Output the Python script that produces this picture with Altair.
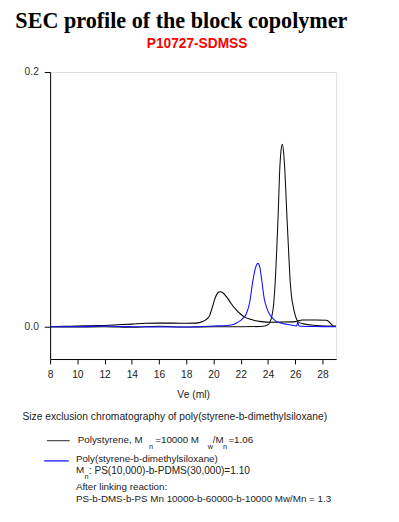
import altair as alt
import pandas as pd

# ---------------- data ----------------
ve_broad = [8.0, 9.0, 10.0, 11.0, 12.0, 13.0, 14.0, 15.0, 16.0, 17.0, 18.0, 18.7, 19.2, 19.5, 19.7,
            19.9, 20.1, 20.3, 20.45, 20.7, 21.0, 21.3, 21.7, 22.0, 22.3, 22.7, 23.0, 23.5, 24.2,
            25.0, 26.0, 26.5, 27.5, 28.3, 28.6, 28.8, 29.0]
val_broad = [0.0, 0.0003, 0.0005, 0.0008, 0.0010, 0.0015, 0.0020, 0.0027, 0.0028, 0.0028, 0.0027,
             0.0028, 0.0040, 0.0060, 0.0085, 0.0150, 0.0220, 0.0265, 0.0275, 0.0265, 0.0228, 0.0180,
             0.0128, 0.0098, 0.0075, 0.0058, 0.0049, 0.0040, 0.0035, 0.0036, 0.0040, 0.0052, 0.0053,
             0.0050, 0.0025, 0.0006, 0.0004]

ve_sharp = [8.0, 10.0, 12.0, 14.0, 16.0, 18.0, 20.0, 22.0, 23.5, 24.0, 24.15, 24.26, 24.4, 24.55,
            24.65, 24.75, 24.85, 24.95, 25.05, 25.15, 25.24, 25.35, 25.48, 25.6, 25.72, 25.84,
            26.04, 26.2, 26.6, 27.5, 28.5, 29.0]
val_sharp = [0.0, -0.0003, 0.0, -0.0005, 0.0003, -0.0003, 0.0, 0.0, 0.0002, 0.0015, 0.0040, 0.0074,
             0.0164, 0.0400, 0.0630, 0.0900, 0.1215, 0.1380, 0.1433, 0.1360, 0.1215, 0.0950, 0.0660,
             0.0400, 0.0240, 0.0164, 0.0074, 0.0040, 0.0022, 0.0010, 0.0005, 0.0003]

ve_blue = [8.0, 10.0, 12.0, 13.0, 14.0, 16.0, 18.0, 19.0, 20.0, 21.0, 21.5, 21.8, 22.1, 22.4, 22.65,
           22.9, 23.1, 23.25, 23.4, 23.5, 23.73, 23.9, 24.1, 24.4, 24.7, 25.2, 25.6, 26.1, 26.18,
           26.26, 26.5, 27.5, 29.0]
val_blue = [0.0, 0.0, 0.0005, 0.0002, 0.0, -0.0003, -0.0002, 0.0, 0.0005, 0.0010, 0.0020, 0.0036,
            0.0060, 0.0100, 0.0190, 0.0369, 0.0470, 0.0497, 0.0465, 0.0395, 0.0215, 0.0150, 0.0100,
            0.0060, 0.0036, 0.0022, 0.0015, 0.0005, 0.0036, 0.0008, 0.0003, 0.0001, 0.0]

x_ticks = [8, 10, 12, 14, 16, 18, 20, 22, 24, 26, 28]
y_ticks = [0.0, 0.2]

TITLE = "SEC profile of the block copolymer"
SUBTITLE = "P10727-SDMSS"
X_TITLE = "Ve (ml)"
CAPTION = "Size exclusion chromatography of poly(styrene-b-dimethylsiloxane)"
LEG1 = ["Polystyrene, M", "n", "=10000  M", "w", "/M", "n", "=1.06"]
LEG2 = ["Poly(styrene-b-dimethylsiloxane)", "M", "n", ": PS(10,000)-b-PDMS(30,000)=1.10",
        "After linking reaction:", "PS-b-DMS-b-PS Mn 10000-b-60000-b-10000 Mw/Mn = 1.3"]

# ---------------- build table ----------------
frames = []
for name, xs, ys in [("broad", ve_broad, val_broad), ("sharp", ve_sharp, val_sharp), ("blue", ve_blue, val_blue)]:
    frames.append(pd.DataFrame({"ve": xs, "val": ys, "series": name}))
df = pd.concat(frames, ignore_index=True)

W, H = 292, 293
SANS = "Liberation Sans"

lines = alt.Chart(df).mark_line(strokeWidth=1.1, interpolate="monotone", clip=True).encode(
    x=alt.X("ve:Q", scale=alt.Scale(domain=[8, 29], nice=False, zero=False),
            axis=alt.Axis(values=x_ticks, title=X_TITLE, grid=False, tickSize=5, labelPadding=6,
                          titlePadding=10, labelFontSize=10.5, titleFontSize=10.5,
                          titleFontWeight="normal", labelFont=SANS, titleFont=SANS,
                          labelColor="#222", titleColor="#222", domainColor="#000",
                          tickColor="#000", labelFlush=False)),
    y=alt.Y("val:Q", scale=alt.Scale(domain=[-0.0254, 0.2], nice=False, zero=False),
            axis=alt.Axis(values=y_ticks, format=".1f", title=None, grid=False, tickSize=6,
                          labelPadding=6, labelFontSize=10.5, labelFont=SANS, labelColor="#333",
                          domainColor="#000", tickColor="#000")),
    color=alt.Color("series:N", scale=alt.Scale(domain=["broad", "sharp", "blue"],
                                               range=["#000000", "#111111", "#1010ff"]), legend=None),
    detail="series:N",
)


def txt(t, x, y, size=10, weight="normal", color="#222", font=SANS, align="left", baseline="middle"):
    return alt.Chart(pd.DataFrame({"t": [t]})).mark_text(
        align=align, baseline=baseline, fontSize=size, fontWeight=weight, color=color, font=font
    ).encode(x=alt.value(x), y=alt.value(y), text="t:N")


def rule(x1, x2, y, color):
    return alt.Chart(pd.DataFrame({"a": [0]})).mark_rule(color=color, strokeWidth=1.3).encode(
        x=alt.value(x1), x2=alt.value(x2), y=alt.value(y))


texts = [
    txt(TITLE, 134, -44.5, size=22.6, weight="bold", color="#000", font="Liberation Serif",
        align="center", baseline="alphabetic"),
    txt(SUBTITLE, 150, -25, size=14, weight="bold", color="#ff0000", align="center",
        baseline="alphabetic"),
    txt(CAPTION, -28.3, 352, size=10.5),
    rule(-3.3, 20, 376.3, "#555555"),
    txt(LEG1[0], 28.3, 375.5),
    txt(LEG1[1], 101, 383, size=7.5),
    txt(LEG1[2], 107.3, 375.5),
    txt(LEG1[3], 161, 383, size=7.5),
    txt(LEG1[4], 166, 375.5),
    txt(LEG1[5], 176.5, 383, size=7.5),
    txt(LEG1[6], 182, 375.5),
    rule(-6, 19, 397, "#1010ff"),
    txt(LEG2[0], 26.3, 395.3),
    txt(LEG2[1], 26.3, 406.5),
    txt(LEG2[2], 35.2, 413.5, size=7.5),
    txt(LEG2[3], 39.5, 407, size=10.3),
    txt(LEG2[4], 26.3, 423.7),
    txt(LEG2[5], 26.3, 436),
]

chart = alt.layer(lines, *texts).properties(
    width=W, height=H,
    autosize=alt.AutoSizeParams(type="none"),
    padding={"left": 43, "top": 60, "right": 56, "bottom": 161},
).configure_view(stroke="#000", strokeWidth=1).configure(background="white")

chart.save("out.html", embed_options={"renderer": "svg", "actions": False})
